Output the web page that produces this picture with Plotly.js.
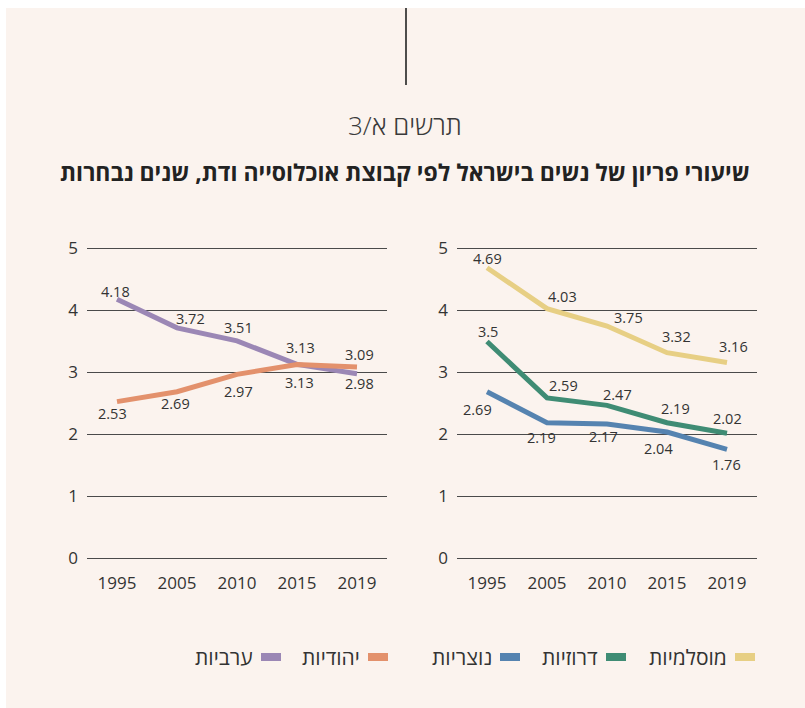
<!DOCTYPE html>
<html>
<head>
<meta charset="utf-8">
<script src="https://cdn.plot.ly/plotly-3.0.1.min.js"></script>
<style>
html,body{margin:0;padding:0;background:#ffffff;}
#chart{width:805px;height:708px;}
</style>
</head>
<body>
<div id="chart"></div>
<script>
// ---- data ----
const years = ['1995', '2005', '2010', '2015', '2019'];
const yTicks = [0, 1, 2, 3, 4, 5];

const arabName = 'ערביות';
const arabVals = [4.18, 3.72, 3.51, 3.13, 2.98];
const jewishName = 'יהודיות';
const jewishVals = [2.53, 2.69, 2.97, 3.13, 3.09];

const muslimName = 'מוסלמיות';
const muslimVals = [4.69, 4.03, 3.75, 3.32, 3.16];
const druzeName = 'דרוזיות';
const druzeVals = [3.5, 2.59, 2.47, 2.19, 2.02];
const christianName = 'נוצריות';
const christianVals = [2.69, 2.19, 2.17, 2.04, 1.76];

const chartNumber = 'תרשים א/3';
const chartTitle = 'שיעורי פריון של נשים בישראל לפי קבוצת אוכלוסייה ודת, שנים נבחרות';

// ---- styles / layout helpers ----
const W = 805, H = 708;
const px = v => v / W;
const py = v => 1 - v / H;
const numFont = 'Open Sans, Noto Sans, DejaVu Sans, sans-serif';
const hebFont = 'Open Sans, Liberation Sans, DejaVu Sans, sans-serif';
const txtColor = '#333333';
const gridColor = '#4a4a4a';
const RLE = '\u202B', PDF = '\u202C';

const series = [
  {name: arabName, vals: arabVals, color: '#9b87b5', xa: 'x', ya: 'y',
   off: [[-2, 8], [13, 9], [1, 13], [3, 17], [2, -10]]},
  {name: jewishName, vals: jewishVals, color: '#e3916c', xa: 'x', ya: 'y',
   off: [[-5, -12], [-2, -12], [1, -17], [2, -18], [2, 12]]},
  {name: christianName, vals: christianVals, color: '#5583b0', xa: 'x2', ya: 'y2',
   off: [[-10, -18], [-6, -15], [-4, -13], [-9, -16], [-1, -15]]},
  {name: druzeName, vals: druzeVals, color: '#3f8c74', xa: 'x2', ya: 'y2',
   off: [[1, 10], [16, 12], [10, 11], [8, 14], [0, 15]]},
  {name: muslimName, vals: muslimVals, color: '#e7cf84', xa: 'x2', ya: 'y2',
   off: [[0, 9], [15, 12], [21, 8], [9, 16], [6, 16]]}
];

const traces = series.map(s => ({
  type: 'scatter', mode: 'lines', x: years, y: s.vals, name: s.name,
  xaxis: s.xa, yaxis: s.ya, hoverinfo: 'skip',
  line: {color: s.color, width: 5}
}));

const annotations = [];
series.forEach(s => {
  s.vals.forEach((v, i) => {
    annotations.push({
      xref: s.xa, yref: s.ya, x: i, y: v, text: String(v),
      showarrow: false, xanchor: 'center', yanchor: 'middle',
      xshift: s.off[i][0], yshift: s.off[i][1],
      font: {family: numFont, size: 14.5, color: txtColor}
    });
  });
});

// titles
annotations.push({
  xref: 'paper', yref: 'paper', x: px(405), y: py(125), showarrow: false,
  xanchor: 'center', yanchor: 'middle', text: RLE + chartNumber + PDF,
  font: {family: hebFont, size: 26, color: '#3a3a3a', weight: 300}
});
annotations.push({
  xref: 'paper', yref: 'paper', x: px(405), y: py(172), showarrow: false,
  xanchor: 'center', yanchor: 'middle', text: RLE + chartTitle + PDF,
  font: {family: hebFont, size: 23, color: '#222222', weight: 700}
});

const shapes = [
  {type: 'rect', xref: 'paper', yref: 'paper', x0: px(6), x1: 1, y0: 0, y1: py(8),
   fillcolor: '#fbf3ee', line: {width: 0}, layer: 'below'},
  {type: 'line', xref: 'paper', yref: 'paper', x0: px(406), x1: px(406), y0: py(8), y1: py(85),
   line: {color: '#222222', width: 1.6}}
];

// legend (right-to-left, swatch on the right of each label)
const legendOrder = [4, 3, 2, 1, 0];            // indices into series
const legendRight = [755, 626, 520, 388, 281];   // pixel right edge of each swatch
const legendY = 657;
legendOrder.forEach((si, k) => {
  const s = series[si];
  const r = legendRight[k];
  shapes.push({type: 'rect', xref: 'paper', yref: 'paper',
    x0: px(r - 20), x1: px(r), y0: py(legendY + 4), y1: py(legendY - 4),
    fillcolor: s.color, line: {width: 0}});
  annotations.push({xref: 'paper', yref: 'paper', x: px(r - 26), y: py(legendY),
    showarrow: false, xanchor: 'right', yanchor: 'middle', text: s.name,
    font: {family: hebFont, size: 21, color: txtColor}});
});

// y: 0 at 558.5px, 5 at 248.5px (62 px per unit); pad range so edge gridlines draw
const pad = 0.02, unit = 62;
const yDom = [1 - (558.5 + pad * unit) / H, 1 - (248.5 - pad * unit) / H];
const yAxisBase = {
  domain: yDom, range: [-pad, 5 + pad], tickvals: yTicks, showgrid: true,
  gridcolor: gridColor, gridwidth: 1.3, zeroline: false,
  showline: false, ticks: '', ticklabelstandoff: 8,
  tickfont: {family: numFont, size: 17, color: txtColor}, fixedrange: true
};
const xAxisBase = {
  type: 'category', range: [-0.5, 4.5], showgrid: false, zeroline: false,
  showline: false, ticks: '', ticklabelstandoff: 11,
  tickfont: {family: numFont, size: 17, color: txtColor}, fixedrange: true
};

const layout = {
  width: W, height: H, autosize: false,
  margin: {l: 0, r: 0, t: 0, b: 0},
  paper_bgcolor: '#ffffff', plot_bgcolor: 'rgba(0,0,0,0)',
  showlegend: false,
  xaxis: Object.assign({}, xAxisBase, {domain: [px(87), px(387)], anchor: 'y'}),
  yaxis: Object.assign({}, yAxisBase, {anchor: 'x'}),
  xaxis2: Object.assign({}, xAxisBase, {domain: [px(457), px(757)], anchor: 'y2'}),
  yaxis2: Object.assign({}, yAxisBase, {anchor: 'x2'}),
  annotations: annotations,
  shapes: shapes
};

Plotly.newPlot('chart', traces, layout, {staticPlot: true, displayModeBar: false});
</script>
</body>
</html>
